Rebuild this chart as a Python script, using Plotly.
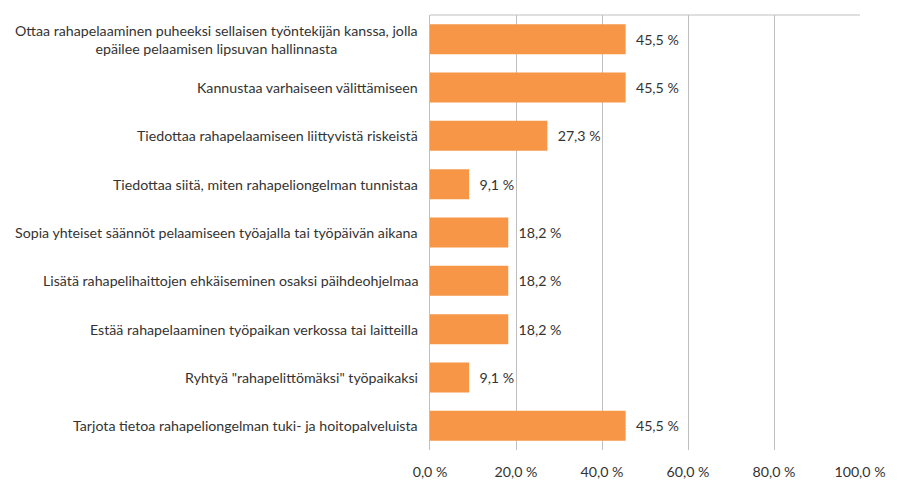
import plotly.graph_objects as go

# categories, top to bottom
categories = [
    "Ottaa rahapelaaminen puheeksi sellaisen työntekijän kanssa, jolla<br>epäilee pelaamisen lipsuvan hallinnasta",
    "Kannustaa varhaiseen välittämiseen",
    "Tiedottaa rahapelaamiseen liittyvistä riskeistä",
    "Tiedottaa siitä, miten rahapeliongelman tunnistaa",
    "Sopia yhteiset säännöt pelaamiseen työajalla tai työpäivän aikana",
    "Lisätä rahapelihaittojen ehkäiseminen osaksi päihdeohjelmaa",
    "Estää rahapelaaminen työpaikan verkossa tai laitteilla",
    "Ryhtyä \"rahapelittömäksi\" työpaikaksi",
    "Tarjota tietoa rahapeliongelman tuki- ja hoitopalveluista",
]
values = [45.5, 45.5, 27.3, 9.1, 18.2, 18.2, 18.2, 9.1, 45.5]
tick_vals = [0, 20, 40, 60, 80, 100]
tick_text = [f"{v:.1f} %".replace(".", ",") for v in tick_vals]

font = "Lato"
grey_text = "#333333"
fsize = 14.2

fig = go.Figure(go.Bar(
    x=values,
    y=categories,
    orientation="h",
    marker=dict(color="#F79646", line=dict(width=0)),
    width=0.62,
    text=[f"{v:.1f} %".replace(".", ",") for v in values],
    texttemplate="\u00a0\u00a0%{text}",
    textposition="outside",
    textfont=dict(family=font, size=fsize, color=grey_text),
    cliponaxis=False,
))

# category labels as annotations so the two-line label is centred
for c in categories:
    fig.add_annotation(x=0, xref="paper", y=c, yref="y", text=c,
                       showarrow=False, xanchor="right", xshift=-10,
                       align="center",
                       font=dict(family=font, size=fsize, color=grey_text))

fig.add_shape(type="line", xref="paper", yref="paper", x0=0, x1=1, y0=1, y1=1,
              line=dict(color="#BFBFBF", width=1))

fig.update_layout(
    width=900, height=500,
    margin=dict(l=422, r=48, t=7, b=58),
    paper_bgcolor="white", plot_bgcolor="white",
    showlegend=False,
    font=dict(family=font, size=fsize, color=grey_text),
    xaxis=dict(range=[0, 100], tickvals=tick_vals, ticktext=tick_text,
               showgrid=True, gridcolor="#BFBFBF", gridwidth=1,
               zeroline=False, showline=False, ticks="",
               ticklabelstandoff=12),
    yaxis=dict(autorange="reversed", showticklabels=False,
               showline=True, linecolor="#BFBFBF", linewidth=1,
               ticks="", showgrid=False),
)

fig.write_html("out.html")
